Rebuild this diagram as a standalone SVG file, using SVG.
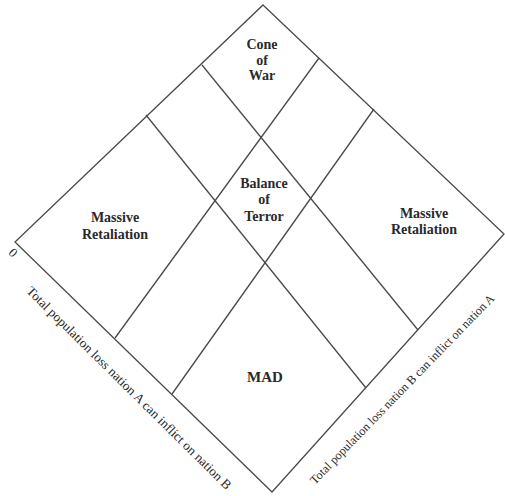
<svg xmlns="http://www.w3.org/2000/svg" width="505" height="496" viewBox="0 0 505 496">
<style>
.ln{fill:none;stroke:#4a4a4a;stroke-width:1.3;stroke-linejoin:miter}
.lb{font-family:"Liberation Serif","Times New Roman",serif;font-weight:bold;font-size:14px;fill:#2a2a2a;text-anchor:middle}
.ax{font-family:"Liberation Serif","Times New Roman",serif;font-size:13px;fill:#2a2a2a;text-anchor:middle}
</style>
<rect width="505" height="496" fill="#ffffff"/>
<g id="connectors">
<polygon class="ln" points="263,5 504,234 272,492 15,242"/>
<line class="ln" x1="202" y1="65" x2="418" y2="330"/>
<line class="ln" x1="146" y1="115" x2="366" y2="388"/>
<line class="ln" x1="115" y1="338" x2="319" y2="58"/>
<line class="ln" x1="172" y1="394" x2="374" y2="109"/>
</g>
<g id="cone-of-war">
<text class="lb" x="262" y="49">Cone</text>
<text class="lb" x="262" y="65">of</text>
<text class="lb" x="262" y="80">War</text>
</g>
<g id="balance-of-terror">
<text class="lb" x="264" y="188">Balance</text>
<text class="lb" x="264" y="204">of</text>
<text class="lb" x="264" y="221">Terror</text>
</g>
<g id="massive-retaliation-left">
<text class="lb" x="115" y="222">Massive</text>
<text class="lb" x="115" y="239">Retaliation</text>
</g>
<g id="massive-retaliation-right">
<text class="lb" x="424" y="218">Massive</text>
<text class="lb" x="424" y="234">Retaliation</text>
</g>
<g id="mad">
<text class="lb" x="265" y="382" style="font-size:15px">MAD</text>
</g>
<g id="axis-labels">
<text class="ax" transform="translate(13,253) rotate(45)" x="0" y="4">0</text>
<text class="ax" transform="translate(126,391) rotate(44.7)" x="0" y="0" textLength="282" lengthAdjust="spacingAndGlyphs">Total population loss nation A can inflict on nation B</text>
<text class="ax" transform="translate(405,392) rotate(-45.9)" x="0" y="0" style="font-size:12.2px">Total population loss nation B can inflict on nation A</text>
</g>
</svg>
